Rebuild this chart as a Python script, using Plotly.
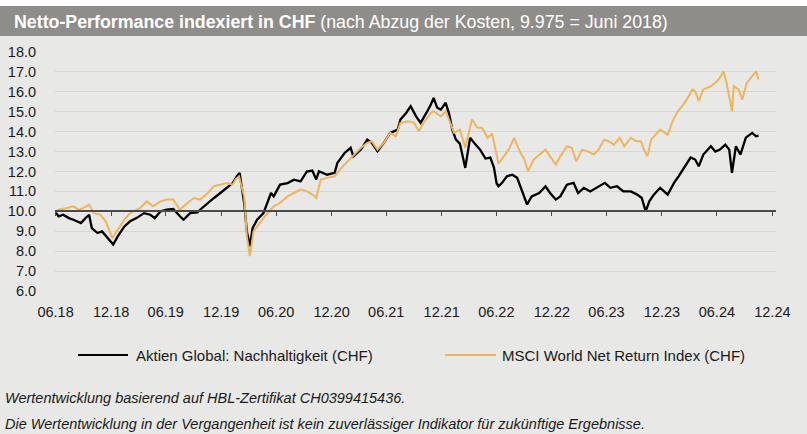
import plotly.graph_objects as go

# ---------------- data ----------------
fund_name = "Aktien Global: Nachhaltigkeit (CHF)"
msci_name = "MSCI World Net Return Index (CHF)"

fund_dates = [
    "2018-06-29", "2018-07-10", "2018-07-25", "2018-08-13", "2018-08-28", "2018-09-22", "2018-10-07",
    "2018-10-19", "2018-10-28", "2018-11-16", "2018-12-01", "2018-12-19", "2019-01-07", "2019-01-22",
    "2019-02-13", "2019-03-04", "2019-03-25", "2019-04-19", "2019-05-10", "2019-05-25", "2019-06-13",
    "2019-07-04", "2019-07-25", "2019-08-16", "2019-08-28", "2019-09-19", "2019-10-13", "2019-10-22",
    "2019-11-16", "2019-12-07", "2019-12-28", "2020-01-19", "2020-02-07", "2020-02-21", "2020-03-01",
    "2020-03-16", "2020-03-25", "2020-04-04", "2020-04-13", "2020-04-28", "2020-05-19", "2020-06-13",
    "2020-06-22", "2020-07-13", "2020-08-07", "2020-08-28", "2020-09-19", "2020-10-10", "2020-10-28",
    "2020-11-10", "2020-11-19", "2020-12-16", "2021-01-10", "2021-01-19", "2021-02-12", "2021-03-04",
    "2021-03-13", "2021-04-07", "2021-04-28", "2021-05-13", "2021-06-01", "2021-06-22", "2021-07-13",
    "2021-08-07", "2021-08-16", "2021-09-04", "2021-09-19", "2021-10-07", "2021-10-22", "2021-11-10",
    "2021-11-25", "2021-12-04", "2021-12-16", "2021-12-28", "2022-01-13", "2022-01-25", "2022-02-04",
    "2022-02-16", "2022-03-01", "2022-03-19", "2022-04-04", "2022-04-22", "2022-05-07", "2022-05-25",
    "2022-06-10", "2022-06-22", "2022-07-01", "2022-07-07", "2022-07-19", "2022-08-04", "2022-08-22",
    "2022-09-07", "2022-09-22", "2022-10-10", "2022-10-25", "2022-11-19", "2022-12-10", "2022-12-25",
    "2023-01-13", "2023-01-28", "2023-02-19", "2023-03-13", "2023-03-28", "2023-04-16", "2023-05-07",
    "2023-05-28", "2023-06-25", "2023-07-13", "2023-08-04", "2023-08-25", "2023-09-19", "2023-10-10",
    "2023-10-25", "2023-11-07", "2023-11-19", "2023-12-04", "2023-12-25", "2024-01-19", "2024-02-09",
    "2024-02-24", "2024-03-16", "2024-04-04", "2024-04-19", "2024-05-01", "2024-05-16", "2024-06-10",
    "2024-06-25", "2024-07-10", "2024-07-28", "2024-08-10", "2024-08-19", "2024-09-01", "2024-09-16",
    "2024-10-04", "2024-10-25", "2024-11-07", "2024-11-15",
]
fund_values = [
    9.975, 9.75, 9.83, 9.66, 9.58, 9.41, 9.66,
    9.83, 9.16, 8.91, 8.99, 8.66, 8.33, 8.74,
    9.24, 9.50, 9.66, 9.91, 9.83, 9.66, 10.00,
    10.08, 10.12, 9.75, 9.58, 9.91, 9.95, 10.08,
    10.42, 10.67, 10.92, 11.17, 11.42, 11.76, 11.93,
    10.42, 8.99, 8.25, 9.16, 9.58, 9.91, 10.92,
    10.75, 11.34, 11.42, 11.59, 11.50, 12.00, 12.05,
    11.60, 12.01, 11.84, 11.93, 12.43, 12.93, 13.19,
    12.76, 13.10, 13.60, 13.44, 13.02, 13.44, 13.94,
    14.10, 14.61, 14.94, 15.28, 14.77, 14.44, 14.94,
    15.36, 15.70, 15.20, 15.11, 15.45, 14.86, 14.10,
    13.60, 13.40, 12.18, 13.69, 13.35, 13.10, 12.65,
    12.70, 12.20, 11.40, 11.26, 11.43, 11.76, 11.84,
    11.68, 11.09, 10.34, 10.75, 10.92, 11.26, 10.92,
    10.59, 10.75, 11.34, 11.43, 10.92, 11.18, 11.00,
    11.18, 11.43, 11.18, 11.26, 11.00, 11.00, 10.84,
    10.67, 10.00, 10.50, 10.84, 11.18, 10.84, 11.43,
    11.76, 12.26, 12.70, 12.60, 12.26, 12.85, 13.27,
    13.00, 13.10, 13.35, 13.10, 11.93, 13.27, 12.85,
    13.70, 13.94, 13.77, 13.80,
]

msci_dates = [
    "2018-06-29", "2018-07-10", "2018-08-07", "2018-08-28", "2018-09-16", "2018-10-01", "2018-10-19",
    "2018-11-04", "2018-11-25", "2018-12-13", "2019-01-04", "2019-01-22", "2019-02-13", "2019-03-04",
    "2019-04-07", "2019-04-28", "2019-05-19", "2019-06-13", "2019-07-04", "2019-07-25", "2019-08-16",
    "2019-09-10", "2019-10-01", "2019-10-22", "2019-11-16", "2019-12-07", "2019-12-28", "2020-01-19",
    "2020-02-07", "2020-02-16", "2020-02-28", "2020-03-16", "2020-03-25", "2020-04-04", "2020-04-16",
    "2020-05-07", "2020-05-28", "2020-06-22", "2020-07-13", "2020-08-07", "2020-08-28", "2020-09-19",
    "2020-10-10", "2020-11-01", "2020-11-10", "2020-11-25", "2020-12-16", "2021-01-10", "2021-02-01",
    "2021-02-22", "2021-03-13", "2021-04-07", "2021-04-28", "2021-05-13", "2021-06-01", "2021-06-22",
    "2021-07-13", "2021-08-01", "2021-08-16", "2021-09-10", "2021-10-01", "2021-10-16", "2021-11-04",
    "2021-11-25", "2021-12-04", "2021-12-28", "2022-01-13", "2022-01-28", "2022-02-10", "2022-03-01",
    "2022-03-19", "2022-04-10", "2022-04-28", "2022-05-13", "2022-06-01", "2022-06-16", "2022-06-28",
    "2022-07-07", "2022-07-25", "2022-08-10", "2022-08-28", "2022-09-13", "2022-10-01", "2022-10-13",
    "2022-11-01", "2022-11-25", "2022-12-10", "2022-12-25", "2023-01-13", "2023-01-28", "2023-02-19",
    "2023-03-07", "2023-03-22", "2023-04-10", "2023-05-01", "2023-05-19", "2023-06-04", "2023-06-22",
    "2023-07-07", "2023-07-25", "2023-08-13", "2023-08-28", "2023-09-19", "2023-10-07", "2023-10-22",
    "2023-11-04", "2023-11-13", "2023-11-25", "2023-12-10", "2023-12-25", "2024-01-19", "2024-02-04",
    "2024-02-22", "2024-03-07", "2024-03-22", "2024-04-10", "2024-04-19", "2024-05-01", "2024-05-16",
    "2024-06-10", "2024-06-25", "2024-07-10", "2024-07-22", "2024-08-01", "2024-08-19", "2024-08-25",
    "2024-09-10", "2024-09-22", "2024-10-07", "2024-10-25", "2024-11-07", "2024-11-15",
]
msci_values = [
    9.975, 10.08, 10.17, 10.25, 10.08, 10.17, 10.34,
    9.91, 9.83, 9.50, 8.66, 9.08, 9.58, 9.91,
    10.17, 10.50, 10.25, 10.50, 10.59, 10.59, 10.08,
    10.42, 10.67, 10.59, 10.92, 11.26, 11.34, 11.42,
    11.34, 11.59, 11.76, 10.75, 8.74, 7.75, 8.99,
    9.41, 9.83, 10.25, 10.42, 10.75, 10.92, 11.10,
    11.00, 10.80, 10.67, 11.60, 11.68, 11.76, 12.18,
    12.51, 12.85, 13.19, 13.44, 13.52, 13.10, 13.44,
    13.94, 13.77, 14.44, 14.52, 14.44, 14.02, 14.52,
    14.94, 15.03, 14.77, 15.03, 14.44, 13.94, 14.10,
    13.20, 14.61, 14.20, 14.20, 13.69, 13.90, 13.00,
    12.40, 12.76, 13.10, 13.69, 13.10, 12.60, 12.01,
    12.60, 12.93, 13.10, 12.76, 12.35, 12.76, 13.27,
    13.19, 12.51, 13.10, 13.00, 12.85, 13.10, 13.60,
    13.52, 13.35, 13.69, 13.27, 13.69, 13.52, 13.52,
    13.00, 12.76, 13.60, 13.85, 14.10, 13.85, 14.52,
    15.03, 15.28, 15.61, 16.12, 16.03, 15.53, 16.12,
    16.28, 16.45, 16.70, 17.03, 16.45, 15.03, 16.28,
    16.12, 15.61, 16.45, 16.78, 17.03, 16.62,
]

tick_dates = ["2018-06-30", "2018-12-31", "2019-06-30", "2019-12-31", "2020-06-30", "2020-12-31",
              "2021-06-30", "2021-12-31", "2022-06-30", "2022-12-31", "2023-06-30", "2023-12-31",
              "2024-06-30", "2024-12-31"]
tick_labels = ["06.18", "12.18", "06.19", "12.19", "06.20", "12.20", "06.21", "12.21",
               "06.22", "12.22", "06.23", "12.23", "06.24", "12.24"]
y_min, y_max, base_value = 6, 18, 10

title_bold = "Netto-Performance indexiert in CHF"
title_rest = "(nach Abzug der Kosten, 9.975 = Juni 2018)"
note1 = "Wertentwicklung basierend auf HBL-Zertifikat CH0399415436."
note2 = "Die Wertentwicklung in der Vergangenheit ist kein zuverlässiger Indikator für zukünftige Ergebnisse."

# ---------------- style / layout ----------------
W, H = 807, 434
L, R, T, B = 55, 31, 52, 143
PW, PH = W - L - R, H - T - B
FONT = "Liberation Sans, Arial, sans-serif"
BG = "#e8e8e6"
BAR = "#8f8d8a"
GRID = "#d6d6d4"
BLACK = "#000000"
ORANGE = "#eeb55f"
TXT = "#1a1a1a"


def px(x):
    return (x - L) / PW


def py(y):
    return 1 - (y - T) / PH


x_range = ["2018-06-28", "2025-01-12"]

fig = go.Figure()
fig.add_trace(go.Scatter(x=fund_dates, y=fund_values, mode="lines", name=fund_name,
                         line=dict(color=BLACK, width=2.3), showlegend=False))
fig.add_trace(go.Scatter(x=msci_dates, y=msci_values, mode="lines", name=msci_name,
                         line=dict(color=ORANGE, width=2), showlegend=False))
# helper trace binding the baseline axis (no visible marks)
fig.add_trace(go.Scatter(x=[fund_dates[0]], y=[None], xaxis="x2", mode="lines",
                         showlegend=False, hoverinfo="skip"))

fig.update_layout(
    width=W, height=H,
    margin=dict(l=L, r=R, t=T, b=B, autoexpand=False),
    paper_bgcolor=BG, plot_bgcolor=BG,
    font=dict(family=FONT, color=TXT, size=15),
    xaxis=dict(range=x_range, type="date", tickvals=tick_dates, ticktext=tick_labels,
               showgrid=False, zeroline=False, showline=False, automargin=False,
               ticks="outside", ticklen=8, tickcolor="rgba(0,0,0,0)",
               tickfont=dict(size=14.5, color=TXT, family=FONT)),
    xaxis2=dict(range=x_range, type="date", overlaying="x", anchor="free",
                position=(base_value - y_min) / (y_max - y_min), automargin=False,
                tickvals=tick_dates, showticklabels=False, showgrid=False, zeroline=False,
                showline=True, linecolor="#4a4a4a", linewidth=1.5,
                ticks="outside", ticklen=4, tickwidth=1.2, tickcolor="#4a4a4a"),
    yaxis=dict(range=[y_min, y_max], dtick=1, tick0=y_min, tickformat=".1f",
               showgrid=True, gridcolor=GRID, gridwidth=1.2, zeroline=False, showline=False,
               automargin=False,
               ticks="outside", ticklen=15, tickcolor="rgba(0,0,0,0)",
               tickfont=dict(size=14.5, color=TXT, family=FONT)),
    showlegend=False,
)

shapes = [
    dict(type="rect", xref="paper", yref="paper", x0=px(0), x1=px(W), y0=py(0), y1=py(6),
         fillcolor="white", line=dict(width=0), layer="below"),
    dict(type="rect", xref="paper", yref="paper", x0=px(0), x1=px(W), y0=py(6), y1=py(36),
         fillcolor=BAR, line=dict(width=0), layer="below"),
    dict(type="line", xref="paper", yref="paper", x0=px(78), x1=px(128), y0=py(355), y1=py(355),
         line=dict(color=BLACK, width=2)),
    dict(type="line", xref="paper", yref="paper", x0=px(445), x1=px(496), y0=py(355), y1=py(355),
         line=dict(color=ORANGE, width=2)),
]
annotations = [
    dict(xref="paper", yref="paper", x=px(12), y=py(21.5), xanchor="left", yanchor="middle",
         showarrow=False, text=f"<b>{title_bold}</b> {title_rest}",
         font=dict(family=FONT, size=17.8, color="white")),
    dict(xref="paper", yref="paper", x=px(134), y=py(355), xanchor="left", yanchor="middle",
         showarrow=False, text=fund_name, font=dict(family=FONT, size=15, color=TXT)),
    dict(xref="paper", yref="paper", x=px(500), y=py(355), xanchor="left", yanchor="middle",
         showarrow=False, text=msci_name, font=dict(family=FONT, size=15, color=TXT)),
    dict(xref="paper", yref="paper", x=px(3), y=py(398), xanchor="left", yanchor="middle",
         showarrow=False, text=f"<i>{note1}</i>", font=dict(family=FONT, size=14.5, color=TXT)),
    dict(xref="paper", yref="paper", x=px(3), y=py(424), xanchor="left", yanchor="middle",
         showarrow=False, text=f"<i>{note2}</i>", font=dict(family=FONT, size=14.5, color=TXT)),
]
fig.update_layout(shapes=shapes, annotations=annotations)

fig.write_html("out.html", config={"displayModeBar": False},
               post_script="document.body.style.margin='0px';")
